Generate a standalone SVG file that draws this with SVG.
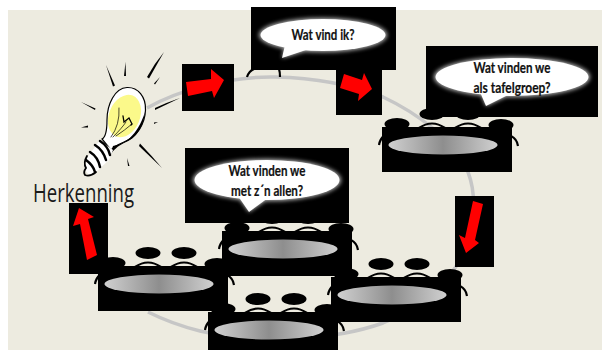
<svg xmlns="http://www.w3.org/2000/svg" width="602" height="350" viewBox="0 0 602 350">
<style>
.k{fill:#000}
.arrow{fill:#ff0000}
.ring{fill:none;stroke:#c6c6c6;stroke-width:3.5}
.bub{fill:#fff}
.glow{fill:#fff;filter:url(#blur);opacity:.75}
.t{font-family:"Lato","Liberation Sans",sans-serif;font-weight:700;font-size:14.5px;fill:#111;text-anchor:middle;stroke:#111;stroke-width:0.2}
.arc{fill:none;stroke:#000;stroke-width:2.2}
.ray{fill:#000}
.wire{fill:none;stroke:#000;stroke-linecap:round}
</style>
<defs>
<filter id="blur" x="-20%" y="-30%" width="140%" height="160%"><feGaussianBlur stdDeviation="2"/></filter>
<linearGradient id="plate" x1="0" x2="1" y1="0" y2="0"><stop offset="0" stop-color="#d0d0d0"/><stop offset="0.5" stop-color="#8e8e8e"/><stop offset="1" stop-color="#d0d0d0"/></linearGradient>
<g id="table">
<ellipse class="k" cx="50" cy="-13" rx="12.5" ry="6"/>
<ellipse class="k" cx="86" cy="-13" rx="12.5" ry="6"/>
<ellipse class="k" cx="15" cy="-3" rx="12.5" ry="6"/>
<ellipse class="k" cx="119" cy="-2" rx="12.5" ry="6"/>
<path class="arc" d="M37,1Q50,-8 63,1M73,1Q86,-8 99,1"/>
<path class="arc" d="M129,9Q135,12 136,19M2,9Q-2,12 -3,18"/>
<rect class="k" x="0" y="0" width="130" height="45"/>
<ellipse cx="61" cy="18" rx="54.5" ry="9.5" fill="url(#plate)"/>
</g>
</defs>
<rect x="8" y="10" width="594" height="340" fill="#edebe0"/>
<g id="connectors">
<path class="ring" d="M147,108C175,92 225,76 275,77C320,78 355,86 383,97C415,112 455,140 468,172C478,198 475,240 455,268C435,295 410,312 383,323C335,340 260,345 200,331C180,326 160,318 148,312"/>
</g>
<g id="node-bulb">
<path class="ray" d="M106,65L115,85.500L113,86.500Z"/>
<path class="ray" d="M125.500,62L126,76L124,76Z"/>
<path class="ray" d="M164,52L149,78.500L147,77Q154,64 164,52Z"/>
<path class="ray" d="M160,77L155,84.500L154,83.500Z"/>
<path class="ray" d="M180,98L155,110L155,108Q168,102 180,98Z"/>
<path class="ray" d="M158,122L154,124L154,122.500Z"/>
<path class="ray" d="M162,168L139,146L140,143.500Q152,156 162,168Z"/>
<path class="ray" d="M127,158L129.500,166L128,166Z"/>
<path class="ray" d="M81,102L95.500,108.500L95,110Z"/>
<path class="ray" d="M81,127.500L88,125.500L88,127.500Z"/>
<path d="M127,87.500C138,87 146,97 145.500,110C145,124 137,137 124,142C117,145 113,147 111,150L102,139C106,137 107,130 107,120C107,104 115,88 127,87.500Z" fill="#fff" stroke="#000" stroke-width="1.200"/>
<path d="M113,146C124,144 137,137 145,112C144,126 136,139 124,143C118,146 113,150 110,156Z" class="k"/>
<ellipse cx="124.500" cy="116" rx="15.500" ry="22" transform="rotate(22 124.500 116)" fill="#fbf98a"/>
<path class="wire" stroke-width="0.700" d="M111,137Q120,125 119,108M113,137Q122,128 126,122M116,136Q125,130 132,124"/>
<path class="wire" stroke-width="1.300" d="M123,116L124,122L129,118L132,124L131,125"/>
<path d="M100,140L113,150L109,160L96,172L89,175L85,170L87,158Z" fill="#fff"/>
<path class="wire" stroke-width="2.500" d="M100,141Q108,146 110,155M95,145Q103,150 106,160M90,152Q98,157 100,167M86,160Q93,165 95,172"/>
<path class="wire" stroke-width="1.800" d="M87,156Q83,163 86,168Q83,172 85,175Q90,177 96,172"/>
</g>
<text id="herkenning" x="33" y="202" font-family="'Open Sans','Liberation Sans',sans-serif" font-size="25" fill="#1a1a1a" textLength="101" lengthAdjust="spacingAndGlyphs">Herkenning</text>
<g id="node-table-1" transform="translate(382,127)"><use href="#table"/></g>
<g id="node-table-3" transform="translate(222,231)"><use href="#table"/></g>
<g id="node-table-4" transform="translate(331,277)"><use href="#table"/></g>
<g id="node-table-2" transform="translate(98,266)"><use href="#table"/></g>
<g id="node-table-5" transform="translate(208,312)"><use href="#table"/></g>
<path class="arc" d="M247,77Q249,71 254,69M279,69Q280,72 280,77"/>
<g id="node-bubble-ik">
<rect class="k" x="251" y="7" width="145" height="63"/>
<g class="glow"><ellipse cx="323" cy="35" rx="64" ry="17"/><polygon points="285,46 282,58 306,51"/></g>
<ellipse class="bub" cx="323" cy="35" rx="62.500" ry="16"/>
<polygon class="bub" points="285,45 282,58 306,50"/>
<text class="t" x="323" y="40" textLength="63" lengthAdjust="spacingAndGlyphs">Wat vind ik?</text>
</g>
<g id="node-bubble-tafel">
<rect class="k" x="426" y="46" width="172" height="71"/>
<g class="glow"><ellipse cx="512" cy="77" rx="78" ry="20"/><polygon points="480,92 486,106 508,96"/></g>
<ellipse class="bub" cx="512" cy="77" rx="76.500" ry="19"/>
<polygon class="bub" points="480,92 486,106 508,95"/>
<text class="t" x="512" y="73" textLength="77" lengthAdjust="spacingAndGlyphs">Wat vinden we</text>
<text class="t" x="512" y="93" textLength="77" lengthAdjust="spacingAndGlyphs">als tafelgroep?</text>
</g>
<g id="node-bubble-allen">
<rect class="k" x="185" y="148" width="164" height="75"/>
<g class="glow"><ellipse cx="267" cy="180" rx="74" ry="21"/><polygon points="238,197 249,212 268,199"/></g>
<ellipse class="bub" cx="267" cy="180" rx="72.500" ry="20"/>
<polygon class="bub" points="238,196 249,212 268,198"/>
<text class="t" x="267" y="176" textLength="77" lengthAdjust="spacingAndGlyphs">Wat vinden we</text>
<text class="t" x="267" y="196" textLength="72" lengthAdjust="spacingAndGlyphs">met z´n allen?</text>
</g>
<g id="connector-arrows">
<rect class="k" x="182" y="64" width="52" height="47"/>
<polygon class="arrow" points="186,82 211,79 211,69 224,80 214,98 212,91 188,96"/>
<rect class="k" x="336" y="70" width="46" height="45"/>
<polygon class="arrow" points="344,74 362,80 364,73 372,89 358,101 359,94 340,88"/>
<rect class="k" x="455" y="196" width="39" height="71"/>
<polygon class="arrow" points="473,201 483,204 475,240 479,243 466,253 459,235 465,238"/>
<rect class="k" x="69" y="203" width="39" height="71"/>
<polygon class="arrow" points="97,255 87,260 80,224 73,226 79,208 94,217 88,219"/>
</g>
</svg>
